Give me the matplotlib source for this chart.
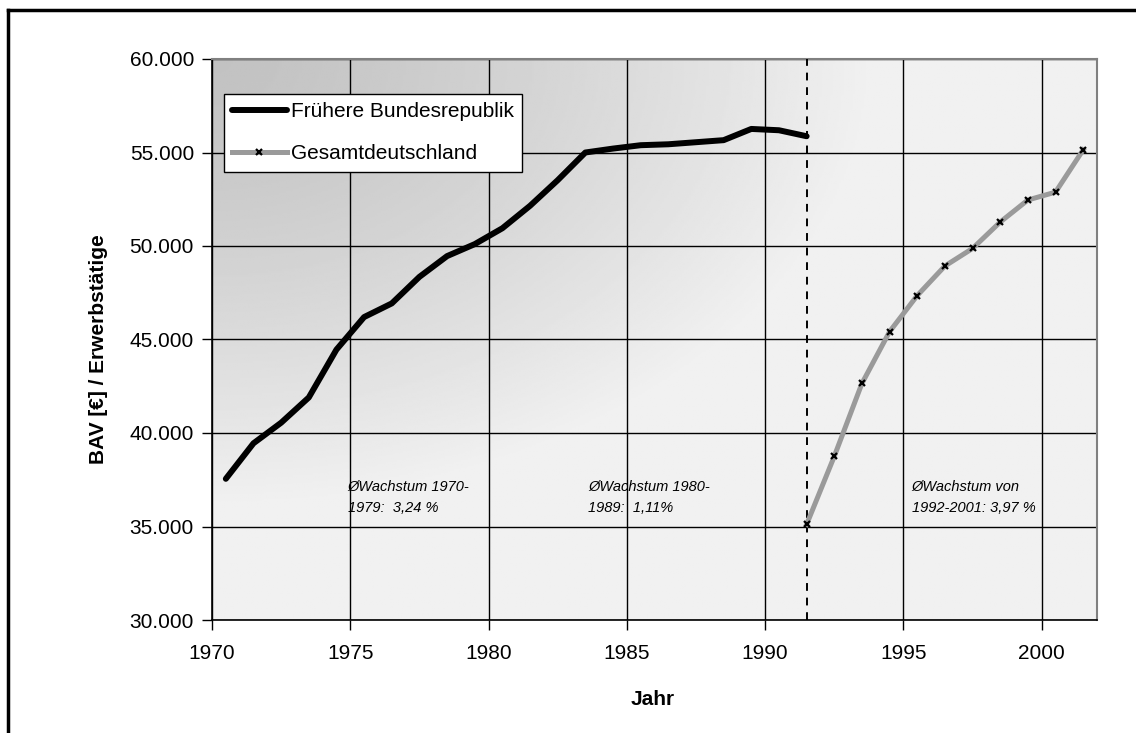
import numpy as np
import matplotlib
matplotlib.use("Agg")
import matplotlib.pyplot as plt
from matplotlib.lines import Line2D
from matplotlib.ticker import FuncFormatter

plt.rcParams['font.family'] = ['Liberation Sans', 'DejaVu Sans']

# BAV per employed person, former West Germany 1970-1991
years_brd = list(range(1970, 1992))
bav_brd = [37550, 39450, 40550, 41900, 44460, 46200, 46930, 48350, 49460, 50100,
           50950, 52150, 53520, 55000, 55210, 55390, 55440, 55550, 55660, 56260,
           56190, 55870]

# BAV per employed person, unified Germany 1991-2001
years_ges = list(range(1991, 2002))
bav_ges = [35110, 38750, 42650, 45420, 47350, 48930, 49870, 51280, 52460, 52880, 55140]

x_ticks = [1970, 1975, 1980, 1985, 1990, 1995, 2000]
y_ticks = [30000, 35000, 40000, 45000, 50000, 55000, 60000]

notes = [
    (1974.9, "ØWachstum 1970-\n1979:  3,24 %"),
    (1983.6, "ØWachstum 1980-\n1989:  1,11%"),
    (1995.3, "ØWachstum von\n1992-2001: 3,97 %"),
]

fig = plt.figure(figsize=(11.36, 7.33), dpi=100)
ax = fig.add_axes([212 / 1136, 1 - 620 / 733, 885 / 1136, 561 / 733])

# gradient background, dark in the top-left corner
u, v = np.meshgrid(np.linspace(0, 1, 400), np.linspace(0, 1, 300))
t = np.clip(np.sqrt((u / 0.75) ** 2 + (v / 0.8) ** 2), 0, 1)
shade = 0.76 + 0.185 * t ** 1.3
ax.imshow(shade, cmap='gray', vmin=0, vmax=1, extent=(0, 1, 0, 1),
          transform=ax.transAxes, aspect='auto', zorder=0, origin='upper')

# category centres sit half a year right of the tick
xb = np.array(years_brd) + 0.5
xg = np.array(years_ges) + 0.5

ax.plot(xb, bav_brd, color='black', lw=4.3, solid_capstyle='round',
        solid_joinstyle='round', zorder=4, label='Frühere Bundesrepublik')
ax.plot(xg, bav_ges, color='#9a9a9a', lw=3.6, marker='x', ms=4.5, mec='black',
        mew=1.6, zorder=4, label='Gesamtdeutschland')

ax.axvline(years_brd[-1] + 0.5, color='black', lw=1.4, ls=(0, (4, 3.5)), zorder=3)

for xn, txt in notes:
    ax.text(xn, 36550, txt, fontsize=10.5, style='italic', va='center', ha='left',
            linespacing=1.6, zorder=5)

ax.set_xlim(1970, 2002)
ax.set_ylim(30000, 60000)
ax.set_xticks(x_ticks)
ax.set_yticks(y_ticks)
ax.yaxis.set_major_formatter(FuncFormatter(lambda val, pos: f"{int(val):,}".replace(",", ".")))
ax.grid(True, color='black', lw=1.0)
for gl in ax.get_xgridlines() + ax.get_ygridlines():
    gl.set_zorder(2)

ax.tick_params(direction='out', length=7, width=1, labelsize=15, pad=6, colors='black')
ax.tick_params(axis='x', pad=10)
for side in ['left', 'bottom']:
    ax.spines[side].set_color('black')
    ax.spines[side].set_linewidth(1.2)
for side in ['top', 'right']:
    ax.spines[side].set_color('#808080')
    ax.spines[side].set_linewidth(1.5)

ax.set_xlabel('Jahr', fontsize=15, fontweight='bold')
ax.set_ylabel('BAV [€] / Erwerbstätige', fontsize=15, fontweight='bold')
ax.xaxis.set_label_coords(0.498, -0.124)
ax.yaxis.set_label_coords(-0.118, 0.483)

leg = ax.legend(loc='upper left', bbox_to_anchor=(224 / 1136, 1 - 94 / 733),
                bbox_transform=fig.transFigure, fontsize=15, frameon=True,
                fancybox=False, edgecolor='black', framealpha=1, handlelength=2.6,
                handletextpad=0.2, borderpad=0.4, labelspacing=1.1,
                borderaxespad=0)
leg.get_frame().set_linewidth(1.0)
leg.set_zorder(6)

# outer chart border (only left and top edges fall inside the picture)
x0, y0 = 7.5 / 1136, 1 - 10 / 733
fig.add_artist(Line2D([x0, x0], [0, y0], transform=fig.transFigure, color='black', lw=2.5))
fig.add_artist(Line2D([x0, 1], [y0, y0], transform=fig.transFigure, color='black', lw=2.5))

fig.savefig('out.png', dpi=100, facecolor='white')
